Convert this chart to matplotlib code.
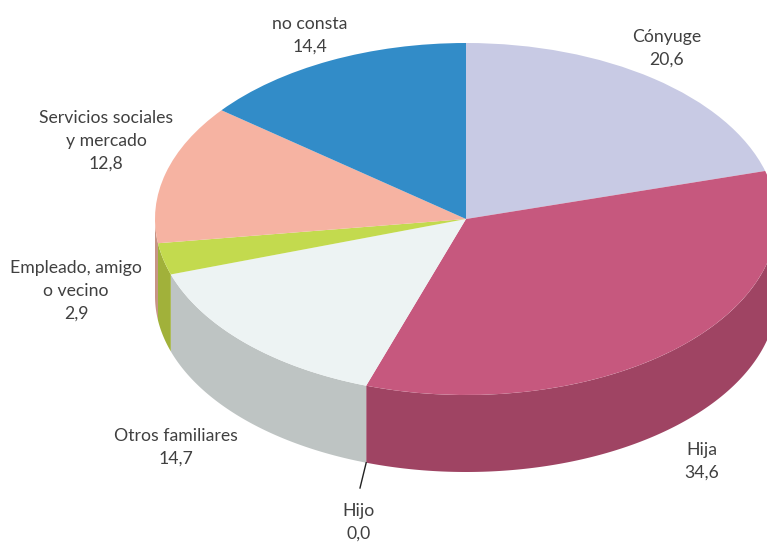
import numpy as np
import matplotlib
matplotlib.use("Agg")
import matplotlib.pyplot as plt

categories = ["Cónyuge", "Hija", "Hijo", "Otros familiares", "Empleado, amigo\no vecino",
              "Servicios sociales\ny mercado", "no consta"]
values = [20.6, 34.6, 0.0, 14.7, 2.9, 12.8, 14.4]
value_labels = ["20,6", "34,6", "0,0", "14,7", "2,9", "12,8", "14,4"]
top_colors = ["#C8CAE4", "#C6587E", "#C6587E", "#EDF3F3", "#C3DA4E", "#F6B3A2", "#328CC8"]
side_colors = ["#9A9CB4", "#9F4463", "#9F4463", "#BEC4C3", "#A1B13A", "#C79384", "#266C9C"]
label_centres = [(667, 48), (702, 461), (359, 522), (176, 447), (76, 291), (106, 141), (310, 35)]

W, H = 767, 542
CX, CY, RX, RY, DEPTH = 466, 219, 311, 176, 77

fig = plt.figure(figsize=(W / 100, H / 100), dpi=100)
ax = fig.add_axes([0, 0, 1, 1])
ax.pie(values, colors=top_colors, startangle=90, counterclock=False, radius=1,
       wedgeprops=dict(linewidth=0, zorder=3), normalize=True)
ax.set_aspect("auto")
ax.set_xlim((0 - CX) / RX, (W - CX) / RX)
ax.set_ylim((CY - H) / RY, CY / RY)
ax.axis("off")

# extruded side walls for the front half of the ellipse
edges = np.cumsum([0] + values) / sum(values) * 2 * np.pi
d = DEPTH / RY
for a0, a1, c in zip(edges[:-1], edges[1:], side_colors):
    lo, hi = max(a0, np.pi / 2), min(a1, 3 * np.pi / 2)
    if hi <= lo:
        continue
    t = np.linspace(lo, hi, 200)
    xs = np.r_[np.sin(t), np.sin(t[::-1])]
    ys = np.r_[np.cos(t), np.cos(t[::-1]) - d]
    ax.fill(xs, ys, color=c, lw=0, zorder=2)

def to_data(px, py):
    return (px - CX) / RX, (CY - py) / RY

# leader line for the zero slice
hijo_angle = edges[2]
lx, ly = np.sin(hijo_angle), np.cos(hijo_angle) - d
ex, ey = to_data(360, 488)
ax.plot([lx, ex], [ly, ey], color="#222222", lw=1, zorder=4)

font = dict(family=["Lato", "DejaVu Sans"], weight="normal", fontsize=12.7, color="#404040",
            ha="center", va="center", linespacing=1.52)
for name, val, (px, py) in zip(categories, value_labels, label_centres):
    x, y = to_data(px, py)
    ax.text(x, y, f"{name}\n{val}", **font)

fig.savefig("out.png", dpi=100)
